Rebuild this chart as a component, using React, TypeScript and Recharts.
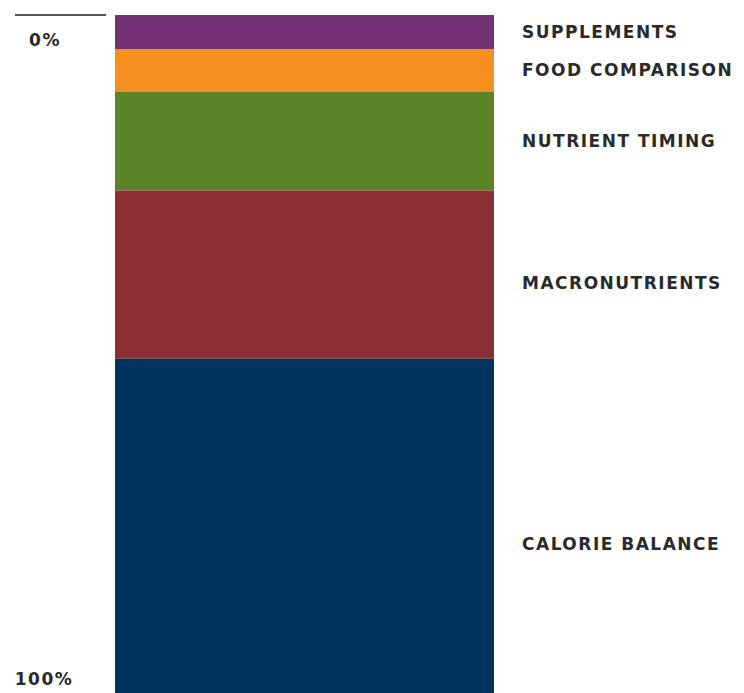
import React from "react";
import { BarChart, Bar, XAxis, YAxis, LabelList } from "recharts";

// segment shares of the single stacked bar, top to bottom
const categories = ["total"];
const segmentNames = ["SUPPLEMENTS", "FOOD COMPARISON", "NUTRIENT TIMING", "MACRONUTRIENTS", "CALORIE BALANCE"];
const segmentValues = [5, 6.3, 14.6, 24.8, 49.3];
const tickValues = [0, 100];

const colors = ["#733274", "#F7901E", "#5B8427", "#8B2F34", "#00345F"];
// small vertical nudges so the labels sit where the original puts them
const labelNudge = [0, 0, 0, 8, 18];

const rows = categories.map((c) => {
  const row: Record<string, string | number> = { name: c };
  segmentNames.forEach((s, i) => (row[s] = segmentValues[i]));
  return row;
});

const FONT = "'DejaVu Sans', sans-serif";
const textStyle = { fontFamily: FONT, fontWeight: "bold", fontSize: 17, letterSpacing: 1.5, fill: "#2a2a2a" } as const;

function AxisTick(props: any) {
  const { y, payload } = props;
  if (payload.value === 0) {
    return (
      <g>
        <line x1={15} x2={106} y1={y} y2={y} stroke="#555" strokeWidth={2} />
        <text x={45} y={y + 25} textAnchor="middle" dominantBaseline="central" {...textStyle}>
          0%
        </text>
      </g>
    );
  }
  return (
    <text x={44} y={y - 5} textAnchor="middle" dominantBaseline="central" {...textStyle}>
      {payload.value}%
    </text>
  );
}

function makeLabel(idx: number) {
  return (props: any) => {
    const { x, y, width, height } = props;
    return (
      <text x={x + width + 28} y={y + height / 2 + labelNudge[idx]} dominantBaseline="central" {...textStyle}>
        {segmentNames[idx]}
      </text>
    );
  };
}

export default function App() {
  return (
    <div style={{ position: "absolute", left: 0, top: 0, background: "#fff" }}>
      <BarChart
        width={744}
        height={693}
        data={rows}
        margin={{ top: 15, right: 250, bottom: 0, left: 0 }}
        barCategoryGap={0}
      >
        <XAxis dataKey="name" hide />
        <YAxis
          type="number"
          domain={[0, 100]}
          reversed
          ticks={tickValues}
          axisLine={false}
          tickLine={false}
          tick={<AxisTick />}
          width={115}
        />
        {segmentNames.map((s, i) => (
          <Bar key={s} dataKey={s} stackId="a" fill={colors[i]} isAnimationActive={false}>
            <LabelList dataKey={s} content={makeLabel(i)} />
          </Bar>
        ))}
      </BarChart>
    </div>
  );
}
